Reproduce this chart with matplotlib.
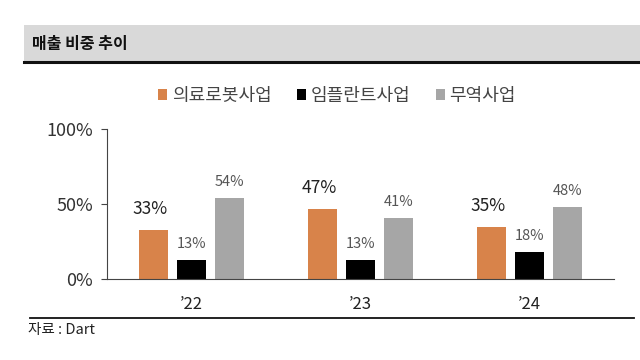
import numpy as np
import matplotlib.pyplot as plt
from matplotlib.patches import Rectangle, Patch
from matplotlib.lines import Line2D

plt.rcParams['font.family'] = ['Noto Sans CJK KR', 'DejaVu Sans']

years = ["’22", "’23", "’24"]
series = ["의료로봇사업", "임플란트사업", "무역사업"]
robot = [33, 47, 35]
implant = [13, 13, 18]
trade = [54, 41, 48]
colors = ["#D8834A", "#000000", "#A6A6A6"]

fig = plt.figure(figsize=(6.4, 3.6), dpi=100)

# title band
fig.patches.append(Rectangle((24/640, 1-62/360), 1-24/640, 37/360,
                             transform=fig.transFigure, facecolor="#D9D9D9",
                             edgecolor="none", zorder=0))
fig.lines.append(Line2D([24/640, 1], [1-62/360, 1-62/360], transform=fig.transFigure,
                        color="#111111", lw=2.2))
fig.text(32/640, 1-44/360, "매출 비중 추이", fontsize=11.5, fontweight="bold",
         va="center", ha="left", color="#111111")

ax = fig.add_axes([107/640, 81/360, 507/640, 150/360])
x = np.arange(len(years))
w = 0.177
off = 0.225
vals = [robot, implant, trade]
for i, (v, c) in enumerate(zip(vals, colors)):
    xs = x + (i - 1) * off
    ax.bar(xs, np.array(v) / 100, width=w, color=c, zorder=2)
    for xx, vv in zip(xs, v):
        if i == 0:
            ax.text(xx - 0.02, vv / 100 + 0.075, f"{vv}%", ha="center", va="bottom",
                    fontsize=12.5, color="#222222")
        else:
            ax.text(xx, vv / 100 + 0.06, f"{vv}%", ha="center", va="bottom",
                    fontsize=10.5, color="#555555")

ax.set_xlim(-0.5, 2.5)
ax.set_ylim(0, 1)
ax.set_yticks([0, 0.5, 1.0])
ax.set_yticklabels(["0%", "50%", "100%"], fontsize=13, color="#333333")
ax.set_xticks(x)
ax.set_xticklabels(years, fontsize=12, color="#222222")
ax.tick_params(axis="x", length=0, pad=12)
ax.tick_params(axis="y", length=4, width=0.8, color="#444444", pad=6)
for s in ["top", "right"]:
    ax.spines[s].set_visible(False)
ax.spines["left"].set_color("#444444")
ax.spines["bottom"].set_color("#444444")
ax.spines["left"].set_linewidth(0.8)
ax.spines["bottom"].set_linewidth(0.8)

handles = [Patch(facecolor=c, edgecolor="none") for c in colors]
fig.legend(handles, series, loc="center", bbox_to_anchor=(337/640, 1-96/360), ncol=3,
           frameon=False, fontsize=13, handlelength=0.5, handleheight=0.5,
           handletextpad=0.25, columnspacing=1.4, labelcolor="#444444")

fig.lines.append(Line2D([30/640, 634/640], [1-318/360, 1-318/360], transform=fig.transFigure,
                        color="#111111", lw=1.3))
fig.text(28/640, 1-330/360, "자료 : Dart", fontsize=10.5, va="center", ha="left",
         color="#222222")

fig.savefig("out.png", dpi=100)
